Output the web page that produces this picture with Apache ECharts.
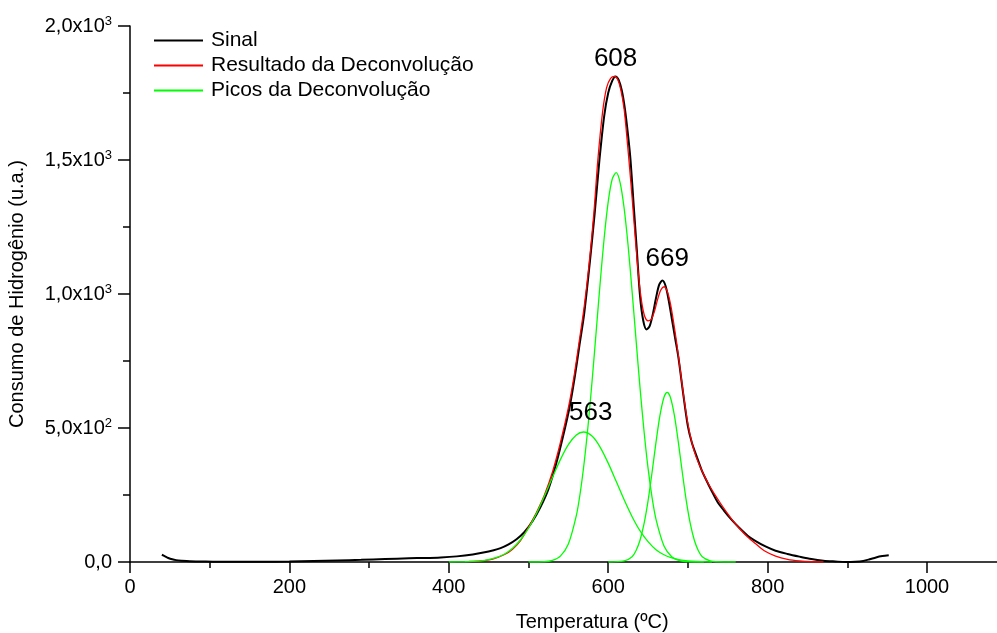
<!DOCTYPE html>
<html>
<head>
<meta charset="utf-8">
<script src="https://cdn.jsdelivr.net/npm/echarts@6/dist/echarts.min.js"></script>
<style>
  html, body { margin: 0; padding: 0; background: #fff; overflow: hidden; }
  #chart { width: 1087px; height: 633px; }
</style>
</head>
<body>
<div id="chart"></div>
<script>
// Measured TPR signal (temperature in ºC, hydrogen consumption in a.u.)
const sinalTemp = [40, 44, 48, 53, 58, 65, 75, 90, 110, 140, 170, 200, 230, 260, 290, 320, 350, 370, 390, 410, 430, 445, 455, 465, 475, 485, 495, 505, 515, 525, 535, 545, 552, 558, 564, 570, 577, 583, 589, 595, 600, 605, 609, 613, 617, 621, 625, 628, 632, 636, 640, 644, 648, 652, 656, 660, 664, 668, 672, 676, 680, 684, 688, 694, 700, 705, 711, 717, 723, 730, 737, 745, 755, 765, 775, 785, 798, 810, 825, 840, 855, 870, 885, 898, 910, 920, 928, 936, 944, 952];
const sinalValues = [27, 21, 15, 10, 7, 5, 3, 2, 1, 1, 1, 2, 4, 6, 8, 11, 14, 15, 17, 21, 28, 36, 43, 52, 66, 85, 112, 152, 205, 272, 370, 490, 585, 690, 810, 930, 1120, 1300, 1500, 1665, 1750, 1795, 1812, 1800, 1760, 1690, 1590, 1500, 1330, 1160, 990, 900, 868, 880, 925, 985, 1035, 1050, 1030, 975, 905, 835, 765, 630, 506, 445, 394, 345, 306, 264, 225, 193, 157, 126, 98, 78, 57, 42, 30, 20, 11, 5, 2, 0, 1, 4, 10, 17, 22, 25];

// Fitted envelope of the deconvolution
const ajusteTemp = [425, 440, 455, 470, 480, 490, 500, 510, 520, 530, 540, 550, 557, 564, 570, 576, 582, 587, 593, 598, 603, 608, 612, 616, 620, 623, 626, 630, 634, 638, 642, 646, 650, 654, 658, 662, 666, 670, 674, 678, 682, 686, 690, 695, 700, 705, 710, 715, 720, 726, 733, 740, 748, 756, 765, 775, 785, 797, 810, 825, 840, 855, 870];
const ajusteValues = [2, 4, 11, 28, 48, 80, 130, 185, 250, 335, 445, 575, 690, 830, 955, 1110, 1300, 1500, 1680, 1770, 1805, 1812, 1800, 1760, 1690, 1600, 1500, 1360, 1210, 1070, 970, 915, 900, 905, 935, 980, 1015, 1027, 1010, 965, 895, 815, 725, 612, 515, 445, 395, 358, 325, 290, 255, 223, 188, 155, 124, 93, 68, 40, 22, 10, 4, 1, 0];

// Individual deconvolution peaks
const pico1Temp = [400, 420, 430, 440, 450, 460, 470, 480, 490, 500, 510, 520, 530, 540, 550, 560, 569, 580, 590, 600, 610, 620, 630, 640, 650, 660, 670, 680, 690, 700, 710, 730];
const pico1Values = [0, 1, 2, 4, 9, 17, 30, 51, 83, 126, 181, 246, 315, 382, 438, 474, 485, 469, 428, 369, 301, 232, 169, 116, 76, 46, 27, 15, 8, 4, 2, 0];

const pico2Temp = [500, 520, 530, 540, 550, 560, 565, 570, 575, 580, 585, 590, 595, 600, 605, 610, 615, 620, 625, 630, 635, 640, 645, 650, 655, 660, 670, 680, 690, 700, 720];
const pico2Values = [0, 1, 6, 22, 67, 173, 260, 375, 517, 683, 863, 1045, 1211, 1344, 1428, 1453, 1415, 1320, 1180, 1009, 827, 648, 487, 350, 241, 159, 60, 19, 5, 1, 0];

const pico3Temp = [600, 620, 630, 635, 640, 645, 650, 655, 660, 665, 670, 674, 678, 683, 688, 693, 698, 703, 708, 713, 718, 728, 735, 760];
const pico3Values = [0, 4, 20, 43, 82, 143, 228, 334, 447, 548, 615, 633, 615, 548, 447, 334, 228, 143, 82, 43, 20, 4, 1, 0];

// Peak annotations: stated temperature and the height it sits over
const picoRotulos = [563, 608, 669];
const picoAlturas = [485, 1812, 1050];

const xTicks = [0, 200, 400, 600, 800, 1000];
const yTicks = [0, 500, 1000, 1500, 2000];

const pairs = (xs, ys) => xs.map((x, i) => [x, ys[i]]);

const FONT = 'Arial, "Liberation Sans", sans-serif';

function yLabel(v) {
  if (v === 0) return '0,0';
  const e = Math.floor(Math.log10(v));
  const m = (v / Math.pow(10, e)).toFixed(1).replace('.', ',');
  return m + 'x10{sup|' + e + '}';
}

const chart = echarts.init(document.getElementById('chart'), null, { renderer: 'canvas' });

const labelOffsets = [[12, -19], [1, -18], [4, -22]];
const peakLabel = {
  show: true, fontSize: 26, color: '#000', fontFamily: FONT,
  position: 'inside', formatter: p => String(p.value)
};

chart.setOption({
  animation: false,
  backgroundColor: '#ffffff',
  textStyle: { fontFamily: FONT },
  grid: { left: 130, right: 0.6, top: 26, bottom: 71, containLabel: false, outerBoundsMode: 'none' },
  legend: {
    left: 148,
    top: 25,
    orient: 'vertical',
    itemWidth: 49,
    itemHeight: 20,
    itemGap: 4,
    selectedMode: false,
    itemStyle: { opacity: 0, borderWidth: 0 },
    textStyle: { fontSize: 21, lineHeight: 20, color: '#000', fontFamily: FONT, padding: [0, 0, 0, 3] },
    data: ['Sinal', 'Resultado da Deconvolução', 'Picos da Deconvolução']
  },
  xAxis: {
    type: 'value',
    min: 0,
    max: 1200,
    interval: 200,
    name: 'Temperatura (ºC)',
    nameLocation: 'middle',
    nameGap: 50,
    nameTextStyle: { fontSize: 20, color: '#000', fontFamily: FONT, padding: [0, 32, 0, 0] },
    axisLine: { show: true, onZero: false, lineStyle: { color: '#000', width: 1.5 } },
    axisTick: { show: true, inside: false, length: 11, lineStyle: { color: '#000', width: 1.5 } },
    minorTick: { show: true, splitNumber: 2, length: 6, lineStyle: { color: '#000', width: 1.5 } },
    splitLine: { show: false },
    axisLabel: {
      margin: 15, fontSize: 20, color: '#000', fontFamily: FONT,
      formatter: v => (xTicks.indexOf(v) >= 0 ? String(v) : '')
    }
  },
  yAxis: {
    type: 'value',
    min: 0,
    max: 2000,
    interval: 500,
    name: 'Consumo de Hidrogênio (u.a.)',
    nameLocation: 'middle',
    nameGap: 103,
    nameTextStyle: { fontSize: 20, color: '#000', fontFamily: FONT },
    axisLine: { show: true, onZero: false, lineStyle: { color: '#000', width: 1.5 } },
    axisTick: { show: true, inside: false, length: 12, lineStyle: { color: '#000', width: 1.5 } },
    minorTick: { show: true, splitNumber: 2, length: 7, lineStyle: { color: '#000', width: 1.5 } },
    splitLine: { show: false },
    axisLabel: {
      margin: 18, fontSize: 20, color: '#000', fontFamily: FONT,
      formatter: v => (yTicks.indexOf(v) >= 0 ? yLabel(v) : ''),
      rich: {
        sup: { fontSize: 13, color: '#000', fontFamily: FONT, padding: [0, 0, 10, 0] }
      }
    }
  },
  series: [
    {
      name: 'Sinal', type: 'line', data: pairs(sinalTemp, sinalValues),
      symbol: 'none', smooth: 0.3, z: 2,
      lineStyle: { color: '#000000', width: 2 }, itemStyle: { color: '#000000' },
      markPoint: {
        symbol: 'circle', symbolSize: 0, label: peakLabel,
        data: [1, 2].map(i => ({
          coord: [picoRotulos[i], picoAlturas[i]], value: picoRotulos[i],
          label: { offset: labelOffsets[i] }
        }))
      }
    },
    {
      name: 'Resultado da Deconvolução', type: 'line', data: pairs(ajusteTemp, ajusteValues),
      symbol: 'none', smooth: 0.3, z: 3,
      lineStyle: { color: '#ff0000', width: 1.3 }, itemStyle: { color: '#ff0000' }
    },
    {
      name: 'Picos da Deconvolução', type: 'line', data: pairs(pico1Temp, pico1Values),
      symbol: 'none', smooth: 0.3, z: 4,
      lineStyle: { color: '#00ff00', width: 1.3 }, itemStyle: { color: '#00ff00' },
      markPoint: {
        symbol: 'circle', symbolSize: 0, label: peakLabel,
        data: [{ coord: [picoRotulos[0], picoAlturas[0]], value: picoRotulos[0], label: { offset: labelOffsets[0] } }]
      }
    },
    {
      name: 'Picos da Deconvolução', type: 'line', data: pairs(pico2Temp, pico2Values),
      symbol: 'none', smooth: 0.3, z: 4,
      lineStyle: { color: '#00ff00', width: 1.3 }, itemStyle: { color: '#00ff00' }
    },
    {
      name: 'Picos da Deconvolução', type: 'line', data: pairs(pico3Temp, pico3Values),
      symbol: 'none', smooth: 0.3, z: 4,
      lineStyle: { color: '#00ff00', width: 1.3 }, itemStyle: { color: '#00ff00' }
    }
  ]
});
</script>
</body>
</html>
